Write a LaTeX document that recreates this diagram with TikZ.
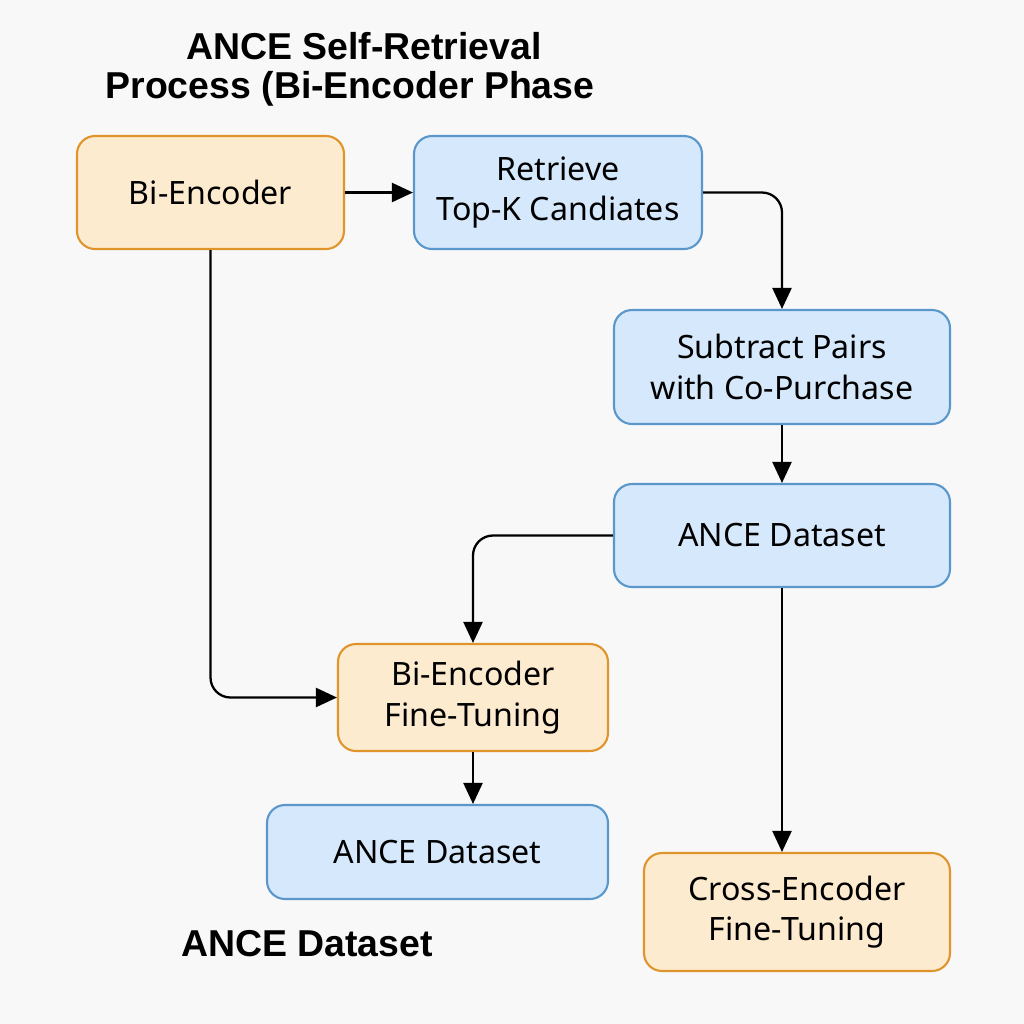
\documentclass[tikz,border=0pt]{standalone}
\usepackage{fontspec}
\setmainfont{Noto Sans}
\newfontfamily\titlefont{Liberation Sans}
\usepackage{tikz}
\usetikzlibrary{arrows.meta,shapes,positioning}
\definecolor{bgcol}{HTML}{F8F8F8}
\definecolor{orangeline}{HTML}{E0952C}
\definecolor{orangefill}{HTML}{FDEBD0}
\definecolor{blueline}{HTML}{5A98CC}
\definecolor{bluefill}{HTML}{D6E8FB}
\tikzstyle{box}=[rectangle,rounded corners=0.36cm,line width=1.2pt,align=center,font=\fontsize{18.3}{23}\selectfont]
\tikzstyle{orangebox}=[box,draw=orangeline,fill=orangefill]
\tikzstyle{bluebox}=[box,draw=blueline,fill=bluefill]
\tikzstyle{title}=[font=\titlefont\bfseries\fontsize{21.3}{26}\selectfont]
\tikzstyle{edge} = [draw,line width=1.3pt,-{Triangle[length=0.42cm,width=0.38cm]},rounded corners=0.4cm]

\begin{document}
\begin{tikzpicture}
    \fill[bgcol] (0,0) rectangle (20.48,-20.48);
    \useasboundingbox (0,0) rectangle (20.48,-20.48);
    % Titles
    \node[title] (head1) at (7.28,-0.92) {ANCE Self-Retrieval};
    \node[title] (head2) at (7.00,-1.78) {Process (Bi-Encoder Phase};
    \node[title] (foot) at (6.14,-18.88) {ANCE Dataset};

    % Boxes
    \node[orangebox,minimum width=5.34cm,minimum height=2.26cm] (bienc) at (4.21,-3.85) {Bi-Encoder};
    \node[bluebox,minimum width=5.76cm,minimum height=2.26cm] (retrieve) at (11.16,-3.85) {Retrieve\\Top-K Candiates};
    \node[bluebox,minimum width=6.72cm,minimum height=2.28cm] (subtract) at (15.64,-7.34) {Subtract Pairs\\with Co-Purchase};
    \node[bluebox,minimum width=6.72cm,minimum height=2.06cm] (dataset) at (15.64,-10.71) {ANCE Dataset};
    \node[orangebox,minimum width=5.40cm,minimum height=2.14cm] (finetune) at (9.46,-13.95) {Bi-Encoder\\Fine-Tuning};
    \node[bluebox,minimum width=6.82cm,minimum height=1.88cm] (dataset2) at (8.75,-17.04) {ANCE Dataset};
    \node[orangebox,minimum width=6.12cm,minimum height=2.36cm] (cross) at (15.94,-18.24) {Cross-Encoder\\Fine-Tuning};

    % Straight connectors
    \foreach \source/ \dest in {bienc/retrieve, subtract/dataset}
        \path[edge] (\source) -- (\dest);
    \path[edge] (finetune.south) -- (finetune.south |- dataset2.north);
    \path[edge] (dataset.south) -- (dataset.south |- cross.north);

    % Elbow connectors
    \path[edge] (retrieve.east) -| (subtract.north);
    \path[edge] (dataset.west) -| (finetune.north);
    \path[edge] (bienc.south) |- (finetune.west);
\end{tikzpicture}
\end{document}
